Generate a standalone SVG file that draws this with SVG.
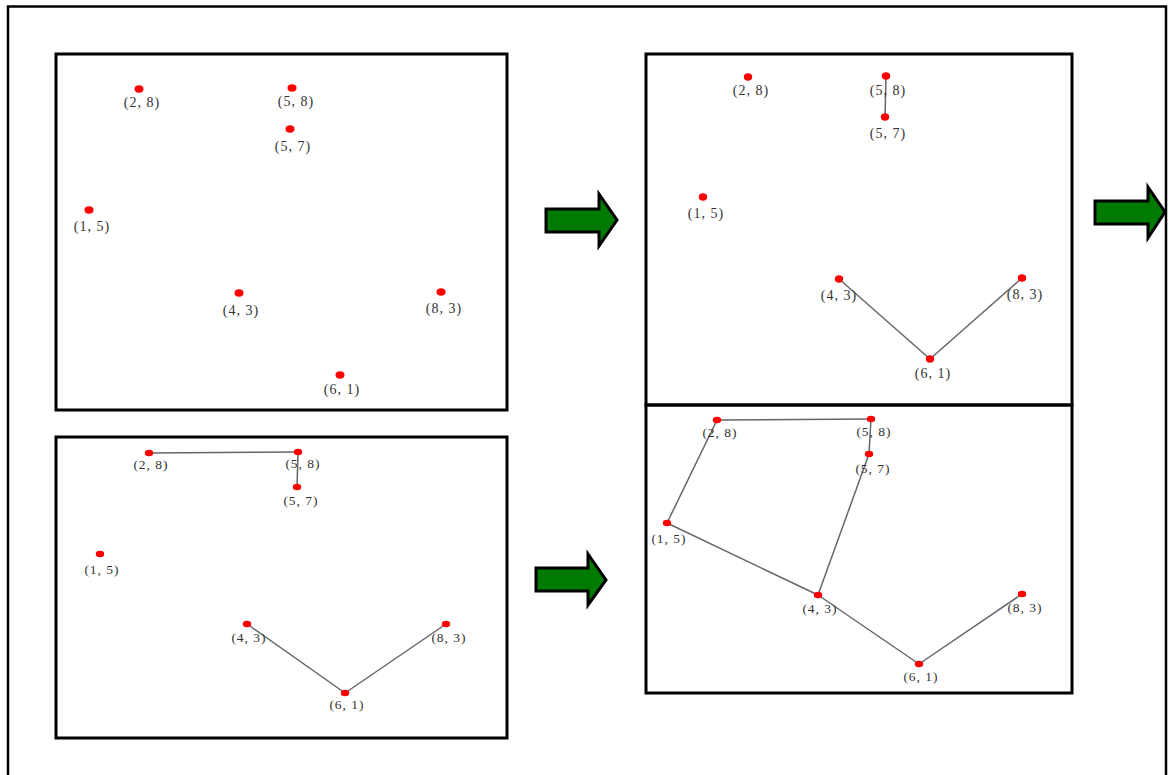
<svg xmlns="http://www.w3.org/2000/svg" width="1168" height="775" viewBox="0 0 1168 775">
<style>
.frame{fill:none;stroke:#000;stroke-width:3}
.outer{fill:none;stroke:#000;stroke-width:2.5}
.dot{fill:#ff0000}
.lbl{font-family:"Liberation Serif","DejaVu Serif",serif;font-size:14px;letter-spacing:1px;fill:#333;text-anchor:middle}
.sm{font-size:13.5px}
.e{stroke:#666;stroke-width:1.5;fill:none}
.arr{fill:#007a00;stroke:#000;stroke-width:3;stroke-linejoin:miter}
</style>
<rect width="1168" height="775" fill="#fff"/>
<path class="outer" d="M8,778 V6.5 H1166 V778"/>
<g id="panelA">
<rect class="frame" x="56" y="54" width="451" height="356"/>
<ellipse class="dot" cx="139" cy="89" rx="4.5" ry="3.7"/><text class="lbl" x="142" y="107">(2, 8)</text>
<ellipse class="dot" cx="292" cy="88" rx="4.5" ry="3.7"/><text class="lbl" x="296" y="106">(5, 8)</text>
<ellipse class="dot" cx="290" cy="129" rx="4.5" ry="3.7"/><text class="lbl" x="293" y="151">(5, 7)</text>
<ellipse class="dot" cx="89" cy="210" rx="4.5" ry="3.7"/><text class="lbl" x="92" y="231">(1, 5)</text>
<ellipse class="dot" cx="239" cy="293" rx="4.5" ry="3.7"/><text class="lbl" x="241" y="315">(4, 3)</text>
<ellipse class="dot" cx="441" cy="292" rx="4.5" ry="3.7"/><text class="lbl" x="444" y="313">(8, 3)</text>
<ellipse class="dot" cx="340" cy="375" rx="4.5" ry="3.7"/><text class="lbl" x="342" y="394">(6, 1)</text>
</g>
<g id="panelC">
<rect class="frame" x="646" y="54" width="426" height="351"/>
<g class="connectors">
<line class="e" x1="886" y1="76" x2="885" y2="117"/>
<line class="e" x1="839" y1="279" x2="930" y2="359"/>
<line class="e" x1="930" y1="359" x2="1022" y2="278"/>
</g>
<ellipse class="dot" cx="748" cy="77" rx="4.2" ry="3.7"/><text class="lbl" x="751" y="95">(2, 8)</text>
<ellipse class="dot" cx="886" cy="76" rx="4.2" ry="3.7"/><text class="lbl" x="888" y="95">(5, 8)</text>
<ellipse class="dot" cx="885" cy="117" rx="4.2" ry="3.7"/><text class="lbl" x="888" y="138">(5, 7)</text>
<ellipse class="dot" cx="703" cy="197" rx="4.2" ry="3.7"/><text class="lbl" x="706" y="218">(1, 5)</text>
<ellipse class="dot" cx="839" cy="279" rx="4.2" ry="3.7"/><text class="lbl" x="839" y="300">(4, 3)</text>
<ellipse class="dot" cx="1022" cy="278" rx="4.2" ry="3.7"/><text class="lbl" x="1025" y="299">(8, 3)</text>
<ellipse class="dot" cx="930" cy="359" rx="4.2" ry="3.7"/><text class="lbl" x="933" y="378">(6, 1)</text>
</g>
<g id="panelB">
<rect class="frame" x="56" y="437" width="451" height="301"/>
<g class="connectors">
<line class="e" x1="149" y1="453" x2="298" y2="452"/>
<line class="e" x1="298" y1="452" x2="297" y2="487"/>
<line class="e" x1="247" y1="624" x2="345" y2="693"/>
<line class="e" x1="345" y1="693" x2="446" y2="624"/>
</g>
<ellipse class="dot" cx="149" cy="453" rx="4.2" ry="3.3"/><text class="lbl sm" x="151" y="469">(2, 8)</text>
<ellipse class="dot" cx="298" cy="452" rx="4.2" ry="3.3"/><text class="lbl sm" x="303" y="468">(5, 8)</text>
<ellipse class="dot" cx="297" cy="487" rx="4.2" ry="3.3"/><text class="lbl sm" x="301" y="505">(5, 7)</text>
<ellipse class="dot" cx="100" cy="554" rx="4.2" ry="3.3"/><text class="lbl sm" x="102" y="574">(1, 5)</text>
<ellipse class="dot" cx="247" cy="624" rx="4.2" ry="3.3"/><text class="lbl sm" x="249" y="642">(4, 3)</text>
<ellipse class="dot" cx="446" cy="624" rx="4.2" ry="3.3"/><text class="lbl sm" x="449" y="642">(8, 3)</text>
<ellipse class="dot" cx="345" cy="693" rx="4.2" ry="3.3"/><text class="lbl sm" x="347" y="709">(6, 1)</text>
</g>
<g id="panelD">
<rect class="frame" x="646" y="405" width="426" height="288"/>
<g class="connectors">
<line class="e" x1="717" y1="420" x2="871" y2="419"/>
<line class="e" x1="871" y1="419" x2="869" y2="454"/>
<line class="e" x1="869" y1="454" x2="818" y2="595"/>
<line class="e" x1="667" y1="523" x2="717" y2="420"/>
<line class="e" x1="667" y1="523" x2="818" y2="595"/>
<line class="e" x1="818" y1="595" x2="919" y2="664"/>
<line class="e" x1="919" y1="664" x2="1022" y2="594"/>
</g>
<ellipse class="dot" cx="717" cy="420" rx="4.2" ry="3.3"/><text class="lbl sm" x="720" y="437">(2, 8)</text>
<ellipse class="dot" cx="871" cy="419" rx="4.2" ry="3.3"/><text class="lbl sm" x="874" y="436">(5, 8)</text>
<ellipse class="dot" cx="869" cy="454" rx="4.2" ry="3.3"/><text class="lbl sm" x="873" y="473">(5, 7)</text>
<ellipse class="dot" cx="667" cy="523" rx="4.2" ry="3.3"/><text class="lbl sm" x="669" y="543">(1, 5)</text>
<ellipse class="dot" cx="818" cy="595" rx="4.2" ry="3.3"/><text class="lbl sm" x="820" y="613">(4, 3)</text>
<ellipse class="dot" cx="1022" cy="594" rx="4.2" ry="3.3"/><text class="lbl sm" x="1025" y="612">(8, 3)</text>
<ellipse class="dot" cx="919" cy="664" rx="4.2" ry="3.3"/><text class="lbl sm" x="921" y="681">(6, 1)</text>
</g>
<g id="arrows">
<path class="arr" d="M546,209 H599 V194 L617,220 L599,246 V232 H546 Z"/>
<path class="arr" d="M1095,201 H1148 V187 L1165,212 L1148,238 V224 H1095 Z"/>
<path class="arr" d="M536,568 H588 V554 L606,580 L588,605 V591 H536 Z"/>
</g>
</svg>
